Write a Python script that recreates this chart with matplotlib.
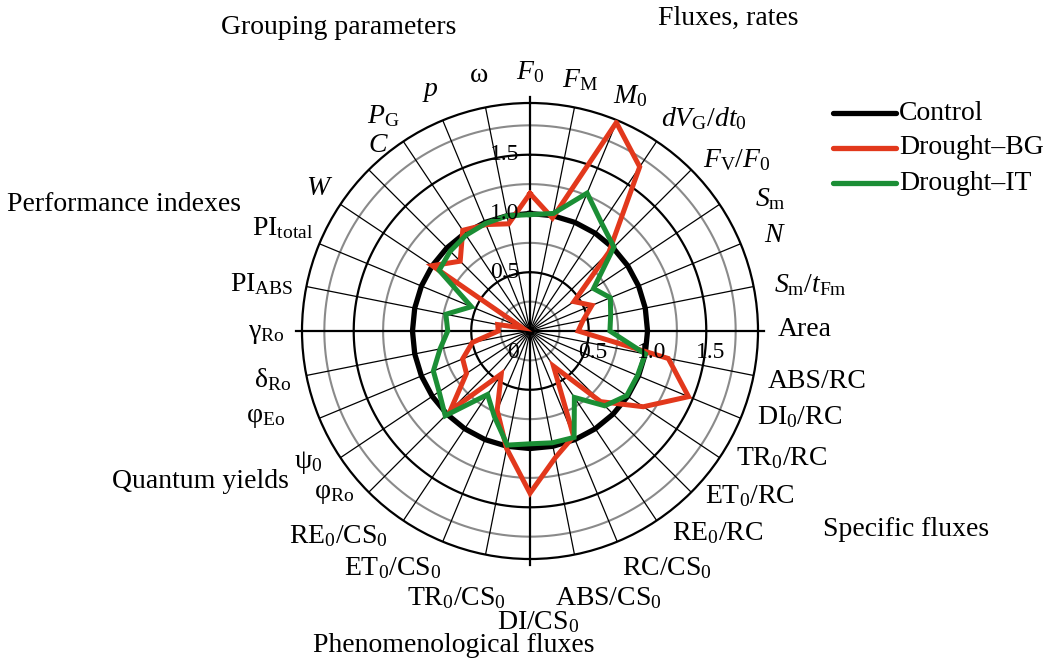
import numpy as np
import matplotlib
matplotlib.use('Agg')
import matplotlib.pyplot as plt
from matplotlib.lines import Line2D
from matplotlib.transforms import ScaledTranslation

plt.rcParams['font.family'] = ['Liberation Serif', 'DejaVu Serif']
plt.rcParams['mathtext.fontset'] = 'custom'
plt.rcParams['mathtext.rm'] = 'Liberation Serif'
plt.rcParams['mathtext.it'] = 'Liberation Serif:italic'
plt.rcParams['mathtext.bf'] = 'Liberation Serif:bold'

# spoke labels, clockwise from the top
labels = [r'$F_0$', r'$F_\mathrm{M}$', r'$M_0$', r'$dV_\mathrm{G}/dt_0$', r'$F_\mathrm{V}/F_0$',
          r'$S_\mathrm{m}$', r'$N$', r'$S_\mathrm{m}/t_\mathrm{Fm}$', 'Area', 'ABS/RC',
          r'DI$_0$/RC', r'TR$_0$/RC', r'ET$_0$/RC', r'RE$_0$/RC', r'RC/CS$_0$',
          r'ABS/CS$_0$', r'DI/CS$_0$', r'TR$_0$/CS$_0$', r'ET$_0$/CS$_0$', r'RE$_0$/CS$_0$',
          r'φ$_\mathrm{Ro}$', r'ψ$_0$', r'φ$_\mathrm{Eo}$', r'δ$_\mathrm{Ro}$', r'γ$_\mathrm{Ro}$',
          r'PI$_\mathrm{ABS}$', r'PI$_\mathrm{total}$', r'$W$', r'$C$', r'$P_\mathrm{G}$', r'$p$', 'ω']

control = [1.0] * 32
drought_bg = [1.17, 0.98, 1.92, 1.68, 0.95, 0.45, 0.57, 0.46, 0.41, 1.20,
              1.46, 1.16, 0.85, 0.36, 0.97, 1.10, 1.38, 1.02, 0.73, 0.44,
              0.96, 0.65, 0.62, 0.50, 0.27, 0.28, 0.07, 1.00, 0.84, 1.03,
              0.98, 0.93]
drought_it = [0.99, 1.02, 1.27, 1.10, 1.01, 0.65, 0.74, 0.70, 0.68, 1.00,
              0.99, 0.99, 0.90, 0.68, 0.98, 0.97, 0.96, 0.99, 0.79, 0.65,
              1.02, 0.93, 0.89, 0.78, 0.70, 0.73, 0.54, 0.93, 0.96, 0.98,
              0.99, 1.00]

groups = ['Fluxes, rates', 'Grouping parameters', 'Performance indexes',
          'Quantum yields', 'Phenomenological fluxes', 'Specific fluxes']

# label centres in pixels (layout only)
label_px = [(530, 72), (580, 80), (630, 96), (704, 119), (737, 160), (770, 199),
            (775, 236), (810, 285), (805, 330), (817, 381), (800, 417), (782, 458),
            (750, 496), (718, 533), (667, 568), (608, 598), (538, 622), (456, 598),
            (393, 568), (338, 536), (334, 494), (308, 462), (266, 418), (273, 380),
            (266, 333), (262, 284), (283, 228), (320, 188), (378, 146), (383, 116),
            (430, 92), (479, 75)]
group_px = [(728, 18), (339, 28), (124, 205), (200, 481), (454, 645), (906, 530)]

W, H = 1055, 662
rmax = 1.94
red = '#E2381C'
green = '#1B8E35'

fig = plt.figure(figsize=(W / 100, H / 100), dpi=100)
cx, cy, R = 530, 331, 228
ax = fig.add_axes([(cx - R) / W, (H - cy - R) / H, 2 * R / W, 2 * R / H], projection='polar')
ax.set_theta_zero_location('N')
ax.set_theta_direction(-1)
ax.set_ylim(0, rmax)
ax.grid(False)
ax.set_xticks([])
ax.set_yticks([])
ax.spines['polar'].set_linewidth(1.6)

n = len(labels)
theta = np.arange(n) * 2 * np.pi / n
full = np.linspace(0, 2 * np.pi, 400)

for r in [0.25, 0.75, 1.25, 1.75]:
    ax.plot(full, [r] * len(full), color='#8a8a8a', lw=1.5, zorder=1)
for r in [0.5, 1.5]:
    ax.plot(full, [r] * len(full), color='black', lw=1.6, zorder=1)
for i, t in enumerate(theta):
    if i % 8 == 0:
        ax.plot([t, t], [0, rmax * 1.025], color='black', lw=1.6, zorder=1, clip_on=False)
    else:
        ax.plot([t, t], [0, rmax], color='black', lw=0.9, zorder=1)

tc = np.append(theta, theta[0])
ax.plot(tc, control + control[:1], color='black', lw=3.8, zorder=3)
ax.plot(tc, drought_bg + drought_bg[:1], color=red, lw=3.6, zorder=4, solid_joinstyle='miter')
ax.plot(tc, drought_it + drought_it[:1], color=green, lw=3.6, zorder=5, solid_joinstyle='miter')

# radial value labels
fs = 20
tfs = 17
for v, s in zip([0.5, 1.0, 1.5], ['0.5', '1.0', '1.5']):
    ax.text(0, v, s, fontsize=tfs, ha='right', va='center', zorder=6,
            transform=ax.transData + ScaledTranslation(-11 / 100, 0, fig.dpi_scale_trans))
    ax.text(np.pi / 2, v, s, fontsize=tfs, ha='center', va='center', zorder=6,
            transform=ax.transData + ScaledTranslation(4 / 100, -21 / 100, fig.dpi_scale_trans))
ax.text(np.pi / 2, 0, '0', fontsize=tfs, ha='center', va='center', zorder=6,
        transform=ax.transData + ScaledTranslation(-17 / 100, -21 / 100, fig.dpi_scale_trans))

for s, (x, y) in zip(labels, label_px):
    fig.text(x / W, 1 - y / H, s, fontsize=fs, ha='center', va='center')
for s, (x, y) in zip(groups, group_px):
    fig.text(x / W, 1 - y / H, s, fontsize=fs, ha='center', va='center')

# legend
for k, (name, col) in enumerate([('Control', 'black'), ('Drought\u2013BG', red), ('Drought\u2013IT', green)]):
    y = 1 - (113 + 35 * k) / H
    fig.add_artist(Line2D([833 / W, 896 / W], [y, y], color=col, lw=3.8, solid_capstyle='round'))
    fig.text(899 / W, y, name, fontsize=fs, ha='left', va='center')

fig.savefig('out.png', dpi=100)
